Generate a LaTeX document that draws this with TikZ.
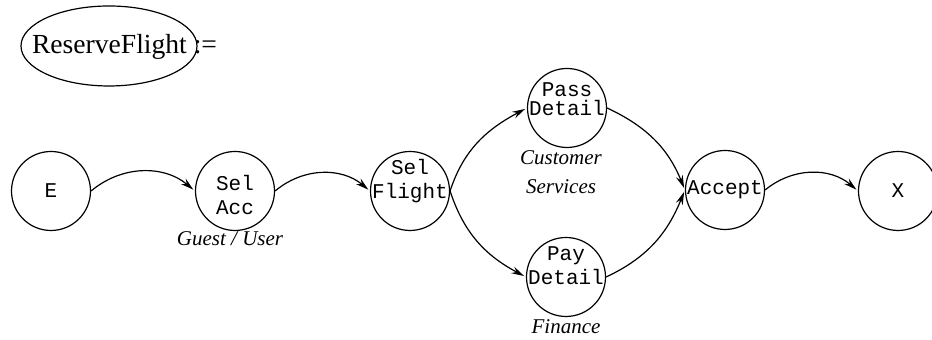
\documentclass[tikz,border=0pt]{standalone}
\usepackage{fontspec}
\setmainfont{Liberation Serif}
\setmonofont{Liberation Mono}
\usepackage{tikz}
\usetikzlibrary{positioning,arrows.meta}

\tikzset{
  state/.style={circle,draw,line width=.6pt,minimum size=39.5pt,inner sep=0pt},
  every label/.style={align=center,font=\ttfamily\fontsize{10.5}{12}\selectfont},
  role/.style={font=\itshape\fontsize{10.5}{14.5}\selectfont,align=center,inner sep=1pt},
  flow/.style={line width=.6pt,-{Stealth[length=6.5pt,width=3.6pt,inset=2.2pt]},shorten >=1pt}
}

\begin{document}
\begin{tikzpicture}[x=.5pt,y=.5pt]
\useasboundingbox (0,0) rectangle (932,340);
% heading
\node[font=\fontsize{13.8}{16}\selectfont] (title) at (124.5,293) {ReserveFlight :=};
\draw[line width=.6pt] (109,294) ellipse (44pt and 20pt);
% states
\node[state,label=center:E] (start) at (51,149) {};
\node[state,label={[yshift=-2pt]center:Sel\\Acc}] (acc) at (235,149) {};
\node[state,label={[yshift=5pt]center:Sel\\Flight}] (flight) at (410,149) {};
\node[state,label={[yshift=4.5pt,font=\ttfamily\fontsize{10.5}{9.5}\selectfont]center:Pass\\Detail}] (pass) at (567,232) {};
\node[state,label={[yshift=5.5pt]center:Pay\\Detail}] (pay) at (566,63) {};
\node[state,label=center:Accept] (accept) at (725,150) {};
\node[state,label=center:X] (stop) at (898,149) {};
% who does what
\node[role,below=-1pt of acc,xshift=-2.5pt] (guest) {Guest / User};
\node[role,below=0pt of pass,xshift=-3pt] (cust) {Customer\\Services};
\node[role,below=0pt of pay] (fin) {Finance};
% transitions
\draw[flow] (start.east) to[bend left=40] (acc.west);
\draw[flow] (acc.east) to[bend left=40] (flight.west);
\draw[flow] (flight.east) to[out=72,in=208] (pass.west);
\draw[flow] (flight.east) to[out=-72,in=152] (pay.west);
\draw[flow] (pass.east) to[out=-25,in=112] (accept.west);
\draw[flow] (pay.east) to[out=25,in=-112] (accept.west);
\draw[flow] (accept.east) to[bend left=40] (stop.west);
\end{tikzpicture}
\end{document}
